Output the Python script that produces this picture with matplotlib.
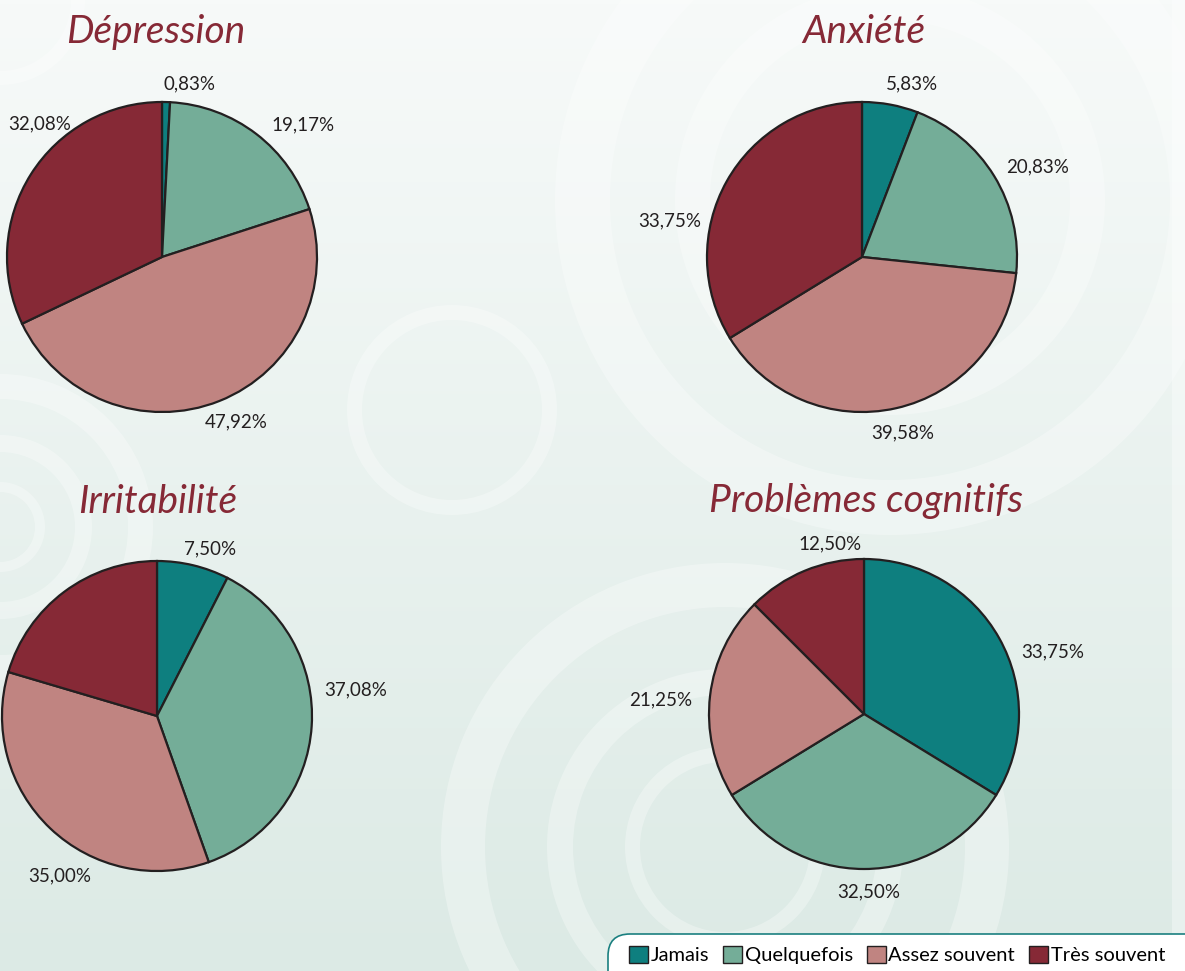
import numpy as np
import matplotlib
matplotlib.use("Agg")
import matplotlib.pyplot as plt
from matplotlib.patches import Wedge, Rectangle, FancyBboxPatch

# ---------------- data ----------------
categories = ["Jamais", "Quelquefois", "Assez souvent", "Très souvent"]
depression = [0.83, 19.17, 47.92, 32.08]
anxiete = [5.83, 20.83, 39.58, 33.75]
irritabilite = [7.50, 37.08, 35.00, 20.42]
cognitifs = [33.75, 32.50, 21.25, 12.50]
titles = ["Dépression", "Anxiété", "Irritabilité", "Problèmes cognitifs"]
series = [depression, anxiete, irritabilite, cognitifs]
# which labels are shown (Irritabilité "Très souvent" has no label in source)
shown = [[True] * 4, [True] * 4, [True, True, True, False], [True] * 4]

colors = ["#0e7f7f", "#74ad98", "#c08481", "#862936"]

# ---------------- layout ----------------
W, H = 1185, 971
centers = [(162, 257), (862, 257), (157, 716), (864, 714)]  # pixel coords (y down)
R = 155
title_pos = [(156, 43), (864, 43), (158, 513), (866, 512)]  # baseline
label_off = [
    [(0.18, 1.12), (0.91, 0.85), (0.48, -1.065), (-0.79, 0.86)],
    [(0.32, 1.12), (1.13, 0.58), (0.26, -1.135), (-1.24, 0.23)],
    [(0.34, 1.08), (1.28, 0.17), (-0.63, -1.03), (0, 0)],
    [(1.22, 0.40), (0.03, -1.15), (-1.31, 0.09), (-0.22, 1.10)],
]

fig = plt.figure(figsize=(W / 100, H / 100), dpi=100)
ax = fig.add_axes([0, 0, 1, 1])

# background gradient
top = np.array([247, 250, 249]) / 255
bot = np.array([220, 234, 229]) / 255
t = np.linspace(0, 1, 256)[:, None]
grad = (top[None, :] * (1 - t) + bot[None, :] * t)[:, None, :]
ax.imshow(grad, extent=(0, W, 0, H), aspect="auto", zorder=0, origin="upper")

# decorative rings (center px, r_outer, thickness)
rings = [
    ((452, 410), 105, 15),
    ((725, 847), 100, 15),
    ((725, 847), 178, 26),
    ((725, 847), 284, 44),
    ((0, 527), 153, 25),
    ((0, 527), 92, 17),
    ((0, 527), 45, 10),
    ((0, 0), 85, 14),
    ((890, 200), 335, 55),
    ((890, 200), 215, 35),
]
for (cx, cy), ro, th in rings:
    ax.add_patch(Wedge((cx, H - cy), ro, 0, 360, width=th, facecolor="white",
                       edgecolor="none", alpha=0.3, zorder=1))
ax.add_patch(Rectangle((1172, 36), 20, H, facecolor="white", alpha=0.35,
                       edgecolor="none", zorder=1))

label_font = dict(family=["Lato", "DejaVu Sans"], fontsize=13.5, color="#231f20")
wedges_all = []
for i, vals in enumerate(series):
    cx, cy = centers[i]
    wedges, _ = ax.pie(vals, center=(cx, H - cy), radius=R, startangle=90,
                       counterclock=False, colors=colors,
                       wedgeprops=dict(edgecolor="#231f20", linewidth=1.6))
    for w in wedges:
        w.set_zorder(3)
    wedges_all.append(wedges)
    for j, v in enumerate(vals):
        if not shown[i][j]:
            continue
        dx, dy = label_off[i][j]
        ax.text(cx + dx * R, H - cy + dy * R, f"{v:.2f}%".replace(".", ","),
                ha="center", va="center", zorder=4, **label_font)
    tx, ty = title_pos[i]
    ax.text(tx, H - ty, titles[i], ha="center", va="baseline", fontsize=28,
            family=["Lato", "DejaVu Sans"], style="italic", weight="normal",
            color="#862936", zorder=4)

ax.set_xlim(0, W)
ax.set_ylim(0, H)
ax.set_aspect("auto")
ax.axis("off")

# legend box (rounded, cut by figure border)
ax.add_patch(FancyBboxPatch((608, -40), 640, H - 934 + 40,
                            boxstyle="round,pad=0,rounding_size=22",
                            facecolor="white", edgecolor="#1b8080",
                            linewidth=1.2, zorder=5))
leg = ax.legend(wedges_all[0], categories, loc="center left",
                bbox_to_anchor=(629 / W, 1 - 955 / H), ncol=4, frameon=False,
                prop=dict(family=["Lato", "DejaVu Sans"], size=14.5),
                handlelength=0.95, handleheight=0.95, handletextpad=0.12,
                columnspacing=0.7, borderpad=0, borderaxespad=0)
for h in leg.legend_handles:
    h.set_edgecolor("#231f20")
    h.set_linewidth(1.0)
leg.set_zorder(6)

fig.savefig("out.png", dpi=100)
